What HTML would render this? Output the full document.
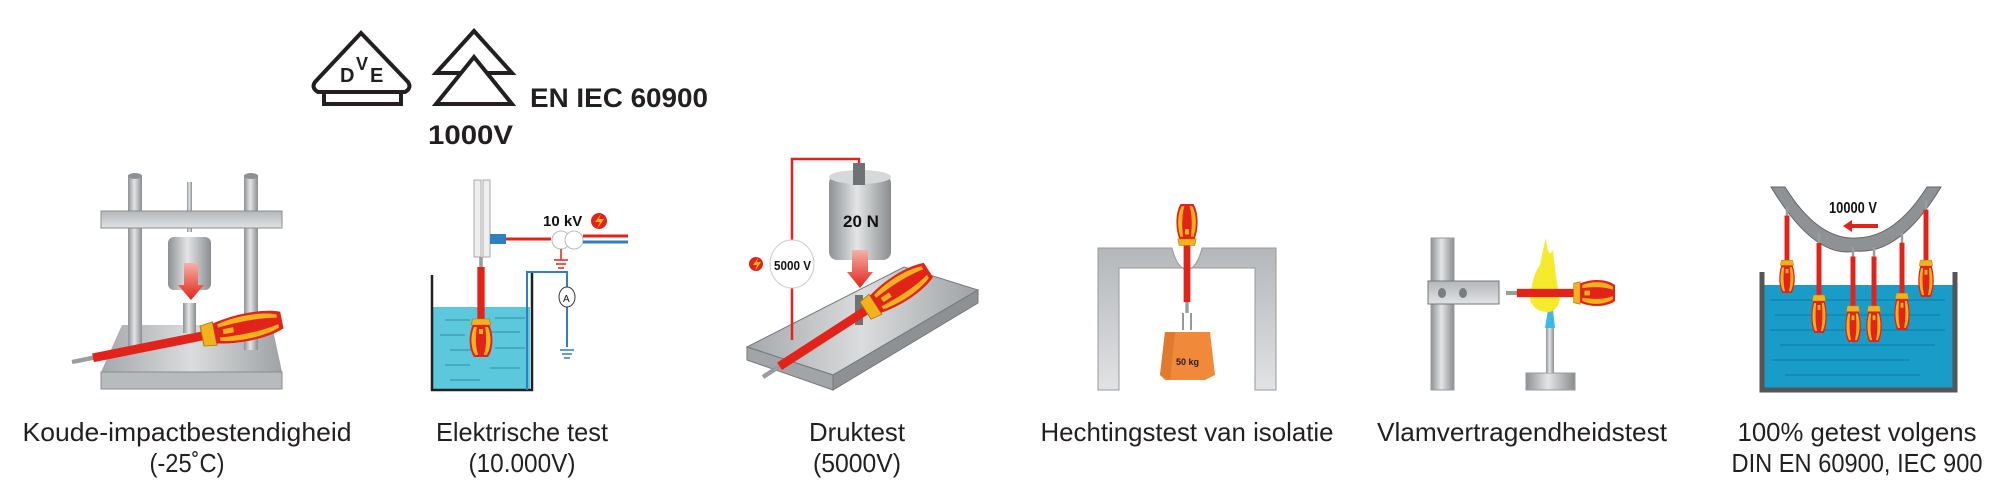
<!DOCTYPE html>
<html><head><meta charset="utf-8"><style>
html,body{margin:0;padding:0;background:#fff;}
svg{display:block;}
text{font-family:"Liberation Sans",sans-serif;}
</style></head><body>
<svg width="2000" height="502" viewBox="0 0 2000 502" xmlns="http://www.w3.org/2000/svg">
<defs>
<linearGradient id="met" x1="0" x2="1" y1="0" y2="0"><stop offset="0" stop-color="#8e9194"/><stop offset="0.45" stop-color="#e3e5e6"/><stop offset="1" stop-color="#8a8d90"/></linearGradient>
<linearGradient id="metv" x1="0" x2="0" y1="0" y2="1"><stop offset="0" stop-color="#b4b7ba"/><stop offset="1" stop-color="#e0e2e4"/></linearGradient>
<linearGradient id="plate" x1="0" x2="1" y1="0" y2="0"><stop offset="0" stop-color="#a5a8ab"/><stop offset="0.5" stop-color="#dadcdd"/><stop offset="1" stop-color="#9fa2a5"/></linearGradient>
<linearGradient id="arr" x1="0" x2="0" y1="0" y2="1"><stop offset="0" stop-color="#f6b0a8"/><stop offset="1" stop-color="#e2231a"/></linearGradient>
<g id="sd">
 <rect x="-1.3" y="0" width="2.6" height="12" fill="#9a9da0"/>
 <rect x="-2.6" y="10" width="5.2" height="52" fill="#e2231a"/>
 <path d="M-6,62 L6,62 L7,68 L-7,68 Z" fill="#f2b21b" stroke="#b07a10" stroke-width="0.5"/>
 <path d="M-6,68 C-9,78 -9,92 -5,100 L5,100 C9,92 9,78 6,68 Z" fill="#e2231a"/>
 <path d="M-5,70 C-8,80 -7,92 -4,98 L-2,98 C-4,90 -4,80 -3,70 Z" fill="#f2b21b"/>
 <path d="M5,70 C8,80 7,92 4,98 L2,98 C4,90 4,80 3,70 Z" fill="#f2b21b"/>
 <rect x="-1.5" y="72" width="3" height="5" fill="#f2b21b"/>
</g>
</defs>

<!-- logos -->
<path d="M361,33 L408,82 Q412,88 405,92 L318,92 Q311,88 315,82 Z" fill="none" stroke="#231f20" stroke-width="4"/>
<rect x="324" y="92" width="77" height="12" fill="none" stroke="#231f20" stroke-width="4"/>
<text x="340" y="82" font-size="20" font-weight="bold" fill="#231f20">D</text>
<text x="356" y="70" font-size="18" font-weight="bold" fill="#231f20">V</text>
<text x="370" y="82" font-size="20" font-weight="bold" fill="#231f20">E</text>
<path d="M474,31 L512,73 L436,73 Z" fill="none" stroke="#231f20" stroke-width="4"/>
<path d="M474,57 L512,104 L436,104 Z" fill="#fff" stroke="#231f20" stroke-width="4"/>
<text x="530" y="107" font-size="27" font-weight="bold" fill="#231f20" textLength="178" lengthAdjust="spacingAndGlyphs">EN IEC 60900</text>
<text x="428" y="144" font-size="27" font-weight="bold" fill="#231f20" textLength="85" lengthAdjust="spacingAndGlyphs">1000V</text>

<!-- col1 impact -->
<path d="M122,325 L272,325 L282,372 L101,372 Z" fill="url(#plate)"/>
<rect x="101" y="372" width="181" height="17" fill="#b8bbbd" stroke="#8a8d90" stroke-width="1"/>
<rect x="128" y="175" width="14" height="175" fill="url(#met)"/>
<ellipse cx="135" cy="176" rx="7" ry="3" fill="#8e9194"/>
<rect x="244" y="175" width="14" height="175" fill="url(#met)"/>
<ellipse cx="251" cy="176" rx="7" ry="3" fill="#8e9194"/>
<rect x="187" y="182" width="5" height="50" fill="url(#met)"/>
<rect x="101" y="211" width="181" height="17" fill="url(#metv)" stroke="#8a8d90"/>
<rect x="168" y="237" width="43" height="53" rx="6" fill="url(#met)"/>
<rect x="183" y="303" width="13" height="30" fill="url(#met)"/>
<path d="M184,263 L198,263 L198,285 L204,285 L191,300 L178,285 L184,285 Z" fill="url(#arr)"/>
<g transform="translate(72,362) rotate(-101.3) scale(1.7,2.14)"><use href="#sd"/></g>

<!-- col2 electric -->
<rect x="433" y="307" width="97" height="82" fill="#5bc8dc"/>
<g stroke="#2c8ea3" stroke-width="1">
<line x1="445" y1="320" x2="470" y2="320"/><line x1="495" y1="318" x2="525" y2="318"/>
<line x1="440" y1="335" x2="465" y2="335"/><line x1="490" y1="332" x2="520" y2="332"/>
<line x1="450" y1="350" x2="475" y2="350"/><line x1="495" y1="348" x2="525" y2="348"/>
<line x1="445" y1="365" x2="470" y2="365"/><line x1="490" y1="368" x2="520" y2="368"/>
<line x1="450" y1="380" x2="480" y2="380"/></g>
<path d="M432,275 L432,390 L532,390 L532,272" fill="none" stroke="#231f20" stroke-width="2.5"/>
<path d="M527,390 L527,272 L567,272 L567,347" fill="none" stroke="#2f7fc1" stroke-width="2"/>
<rect x="474" y="180" width="7" height="77" fill="#eee" stroke="#aaa"/>
<rect x="483" y="180" width="7" height="77" fill="#eee" stroke="#aaa"/>
<g transform="translate(481,257) rotate(0) scale(1.4,1)"><use href="#sd"/></g>
<rect x="490" y="234" width="16" height="10" fill="#2f7fc1"/>
<line x1="506" y1="239" x2="551" y2="239" stroke="#e2231a" stroke-width="3"/>
<circle cx="561" cy="240" r="9" fill="#fff" stroke="#bbb"/><circle cx="574" cy="240" r="9" fill="#fff" stroke="#bbb"/>
<line x1="583" y1="236" x2="628" y2="236" stroke="#e2231a" stroke-width="3"/>
<line x1="583" y1="242" x2="628" y2="242" stroke="#2f7fc1" stroke-width="3"/>
<line x1="561" y1="249" x2="561" y2="260" stroke="#e2231a" stroke-width="1.5"/>
<path d="M554,260h14M556,264h10M558,268h6" stroke="#e2231a" stroke-width="1.5"/>
<text x="543" y="226" font-size="15" font-weight="bold" fill="#111">10 kV</text>
<circle cx="599" cy="221" r="8" fill="#e2231a"/><path d="M601,214 L595,222 L600,222 L597,229 L604,219 L599,219 Z" fill="#f2b21b"/>
<ellipse cx="567" cy="297" rx="8" ry="10" fill="#fff" stroke="#333"/>
<text x="563" y="302" font-size="10" fill="#111">A</text>
<path d="M560,350h14M562,354h10M564,358h6" stroke="#2f7fc1" stroke-width="1.5"/>

<!-- col3 druktest -->
<path d="M747,347 L904,267 L978,290 L833,375 Z" fill="url(#plate)" stroke="#777" stroke-width="1"/>
<path d="M747,347 L833,375 L833,390 L747,360 Z" fill="#a2a5a8" stroke="#777" stroke-width="1"/>
<path d="M833,375 L978,290 L978,303 L833,390 Z" fill="#8e9194" stroke="#777" stroke-width="1"/>
<polyline points="792,340 792,159 859,159 859,170" fill="none" stroke="#e2231a" stroke-width="2.5"/>
<ellipse cx="792" cy="264" rx="22" ry="24" fill="#fff" stroke="#ccc"/>
<text x="774" y="270" font-size="13" font-weight="bold" fill="#111" textLength="37" lengthAdjust="spacingAndGlyphs">5000 V</text>
<circle cx="756" cy="264" r="7" fill="#e2231a"/><path d="M758,258 L753,265 L757,265 L755,271 L761,262 L757,262 Z" fill="#f2b21b"/>
<rect x="829" y="175" width="62" height="85" rx="8" fill="url(#met)"/>
<ellipse cx="860" cy="177" rx="31" ry="7" fill="#d6d8da"/>
<rect x="853" y="163" width="12" height="22" fill="#6f7275"/>
<text x="843" y="227" font-size="17" font-weight="bold" fill="#111">20 N</text>
<rect x="855" y="295" width="8" height="30" fill="#6f7275"/>
<path d="M852,250 L868,250 L868,272 L873,272 L860,288 L847,272 L852,272 Z" fill="url(#arr)"/>
<g transform="translate(763,377) rotate(-122.9) scale(1.7,1.97)"><use href="#sd"/></g>

<!-- col4 -->
<path d="M1098,248 L1172,248 Q1177,268 1187,270 Q1197,268 1202,248 L1276,248 L1276,390 L1255,390 L1255,268 L1119,268 L1119,390 L1098,390 Z" fill="url(#metv)" stroke="#999" stroke-width="1"/>
<g transform="translate(1187,313) rotate(180) scale(1.3,1.09)"><use href="#sd"/></g>
<path d="M1183,313 L1183,330 M1191,313 L1191,330" stroke="#777" stroke-width="1.5"/>
<path d="M1165,332 L1210,332 L1215,375 L1205,380 L1165,380 L1160,375 Z" fill="#f08a3a"/>
<path d="M1165,332 L1175,332 L1170,380 L1160,375 Z" fill="#e07a2e"/>
<text x="1176" y="365" font-size="9" font-weight="bold" fill="#222">50 kg</text>

<!-- col5 -->
<rect x="1431" y="238" width="23" height="152" fill="url(#met)" stroke="#999"/>
<rect x="1428" y="281" width="71" height="23" fill="url(#metv)" stroke="#777"/>
<ellipse cx="1442" cy="293" rx="4" ry="5" fill="#7a7d80"/><ellipse cx="1463" cy="293" rx="4" ry="5" fill="#7a7d80"/>
<rect x="1526" y="373" width="49" height="17" fill="url(#met)" stroke="#999"/>
<rect x="1546" y="328" width="8" height="45" fill="url(#met)"/>
<path d="M1545,328 L1548,310 L1553,310 L1555,328 Z" fill="#3db7e8"/>
<path d="M1530,300 Q1532,275 1540,265 Q1545,240 1546,238 Q1548,260 1553,250 Q1556,280 1560,300 Q1556,312 1548,312 Q1535,312 1530,300 Z" fill="#f6ea2c"/>
<g transform="translate(1506,293) rotate(-90) scale(1.6,1.09)"><use href="#sd"/></g>

<!-- col6 -->
<rect x="1762" y="285" width="191" height="103" fill="#1a9cc9"/>
<g stroke="#0f78a3" stroke-width="1">
<line x1="1770" y1="300" x2="1945" y2="300"/><line x1="1775" y1="315" x2="1940" y2="315"/><line x1="1770" y1="330" x2="1945" y2="330"/>
<line x1="1780" y1="345" x2="1935" y2="345"/><line x1="1772" y1="360" x2="1910" y2="360"/><line x1="1785" y1="375" x2="1920" y2="375"/></g>
<path d="M1762,272 L1762,390 L1955,390 L1955,272" fill="none" stroke="#555" stroke-width="5"/>
<path d="M1771,187 Q1815,260 1856,251 Q1900,255 1941,187 L1927,187 Q1895,238 1856,238 Q1818,240 1785,187 Z" fill="#8f9295" stroke="#666"/>
<text x="1829" y="213" font-size="16" font-weight="bold" fill="#111" textLength="48" lengthAdjust="spacingAndGlyphs">10000 V</text>
<path d="M1878,224 L1852,224 L1852,220 L1843,226 L1852,232 L1852,228 L1878,228 Z" fill="#e2231a"/>
<g transform="translate(1787,207) scale(0.95,0.86)"><use href="#sd"/></g>
<g transform="translate(1819,233) scale(0.95,1.0)"><use href="#sd"/></g>
<g transform="translate(1853,247) scale(0.95,0.95)"><use href="#sd"/></g>
<g transform="translate(1874,247) scale(0.95,0.95)"><use href="#sd"/></g>
<g transform="translate(1902,233) scale(0.95,0.97)"><use href="#sd"/></g>
<g transform="translate(1926,200) scale(0.95,0.97)"><use href="#sd"/></g>

<!-- labels -->
<g font-size="26" fill="#231f20" text-anchor="middle">
<text x="187" y="441" textLength="329" lengthAdjust="spacingAndGlyphs">Koude-impactbestendigheid</text>
<text x="187" y="472" textLength="75" lengthAdjust="spacingAndGlyphs">(-25˚C)</text>
<text x="522" y="441" textLength="172" lengthAdjust="spacingAndGlyphs">Elektrische test</text>
<text x="522" y="472" textLength="107" lengthAdjust="spacingAndGlyphs">(10.000V)</text>
<text x="857" y="441" textLength="96" lengthAdjust="spacingAndGlyphs">Druktest</text>
<text x="857" y="472" textLength="88" lengthAdjust="spacingAndGlyphs">(5000V)</text>
<text x="1187" y="441" textLength="293" lengthAdjust="spacingAndGlyphs">Hechtingstest van isolatie</text>
<text x="1522" y="441" textLength="290" lengthAdjust="spacingAndGlyphs">Vlamvertragendheidstest</text>
<text x="1857" y="441" textLength="239" lengthAdjust="spacingAndGlyphs">100% getest volgens</text>
<text x="1857" y="472" textLength="251" lengthAdjust="spacingAndGlyphs">DIN EN 60900, IEC 900</text>
</g>
</svg>
</body></html>
